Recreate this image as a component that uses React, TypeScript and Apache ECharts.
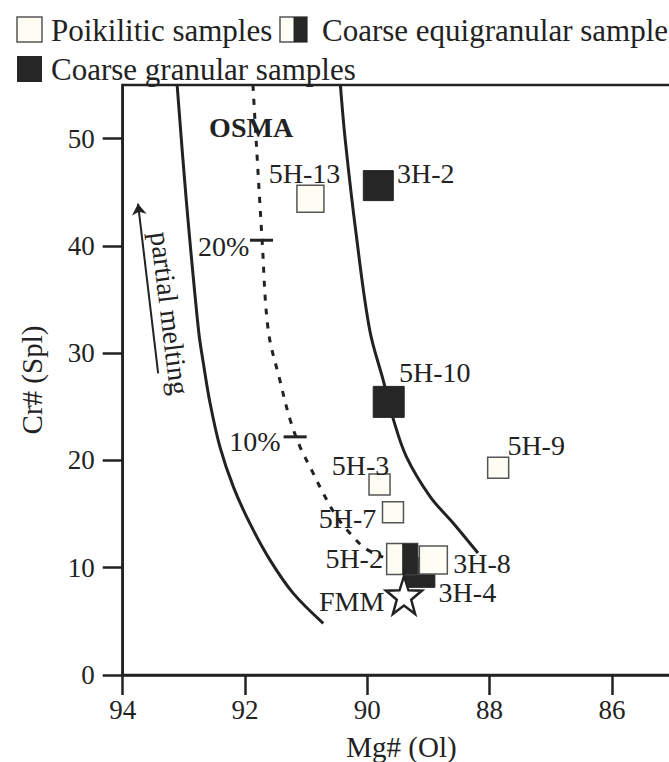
import React, { useEffect, useRef } from "react";
import * as echarts from "echarts";

// ---------- data ----------
const poikiliticNames = ["5H-13", "5H-3", "5H-7", "3H-8", "5H-9"];
const poikiliticMg = [90.93, 89.8, 89.58, 88.92, 87.86];
const poikiliticCr = [44.39, 17.75, 15.16, 10.71, 19.33];

const granularNames = ["3H-2", "5H-10", "3H-4"];
const granularMg = [89.82, 89.65, 89.14];
const granularCr = [45.62, 25.46, 9.57];

const equigranularNames = ["5H-2"];
const equigranularMg = [89.43];
const equigranularCr = [10.81];

const fmmName = "FMM";
const fmmMg = 89.4;
const fmmCr = 7.45;

// OSMA field boundaries
const leftCurveMg = [93.11, 92.96, 92.76, 92.68, 92.57, 92.41, 92.19, 91.92, 91.59, 91.21, 90.72];
const leftCurveCr = [55.0, 44.25, 32.14, 29.04, 25.31, 21.27, 17.54, 14.13, 10.71, 7.61, 4.82];
const rightCurveMg = [90.44, 90.36, 90.18, 89.96, 89.74, 89.57, 89.36, 88.97, 88.59, 88.19];
const rightCurveCr = [55.0, 49.84, 40.99, 32.14, 27.48, 23.76, 20.34, 16.61, 14.13, 11.37];

// partial melting trend from FMM
const meltCurveMg = [91.87, 91.72, 91.62, 91.43, 91.26, 91.1, 90.91, 90.72, 90.5, 90.28, 90.04, 89.74];
const meltCurveCr = [55.0, 40.53, 32.14, 27.48, 23.76, 21.27, 19.1, 16.93, 14.75, 13.2, 11.83, 10.99];
const meltTickLabels = ["20%", "10%"];
const meltTickMg = [91.73, 91.18];
const meltTickCr = [40.53, 22.2];

// annotations
const osmaLabel = "OSMA";
const osmaPos = [91.9, 51.05];
const meltingText = "partial melting";
const meltingTextPos = [93.23, 33.72];
const arrowStart = [93.42, 28.11];
const arrowEnd = [93.75, 43.94];

// axes
const xMin = 84;
const xMax = 94;
const xInterval = 2;
const yMin = 0;
const yMax = 55;
const yInterval = 10;
const xName = "Mg# (Ol)";
const yName = "Cr# (Spl)";

const legendLabels = ["Poikilitic samples", "Coarse equigranular sample", "Coarse granular samples"];

// ---------- styles ----------
const FONT = "'Liberation Serif', 'Times New Roman', serif";
const INK = "#222222";
const DARK = "#262626";
const OPEN_FILL = "#fdfdf4";
const OPEN_BORDER = "#555555";

const markerSize: Record<string, number> = {
  "5H-13": 27, "5H-3": 21, "5H-7": 21, "3H-8": 28, "5H-9": 21,
  "3H-2": 30, "5H-10": 31, "3H-4": 30, "5H-2": 31,
};
const labelOffset: Record<string, [number, number]> = {
  "5H-13": [-6, -25],
  "5H-3": [-19, -19.5],
  "5H-7": [-45.5, 6],
  "3H-8": [48.7, 3],
  "5H-9": [38, -22.5],
  "3H-2": [47.5, -12],
  "5H-10": [46, -29],
  "3H-4": [47.5, 20],
  "5H-2": [-48, -0.7],
  FMM: [-52.3, 6.7],
  "20%": [-37.8, 6.7],
  "10%": [-40.3, 5],
};

const STAR =
  "path://M50,0L61.76,33.82L97.55,34.55L69.02,56.18L79.39,90.45L50,70L20.61,90.45L30.98,56.18L2.45,34.55L38.24,33.82Z";

const zip = (a: number[], b: number[]) => a.map((v, i) => [v, b[i]]);

const sampleLabel = {
  show: true,
  position: "inside" as const,
  formatter: "{b}",
  fontSize: 28,
  fontFamily: FONT,
  color: INK,
  opacity: 1,
  textBorderWidth: 0,
};

function pointItems(names: string[], mg: number[], cr: number[]) {
  return names.map((n, i) => ({
    name: n,
    value: [mg[i], cr[i]],
    symbolSize: markerSize[n],
    label: { offset: labelOffset[n] },
  }));
}

function buildOption(): any {
  const legendY1 = 17;
  const legendY2 = 56;
  return {
    animation: false,
    backgroundColor: "#ffffff",
    grid: {
      left: 122.7,
      top: 85,
      width: 611.5,
      height: 590,
      outerBoundsMode: "none",
      containLabel: false,
      show: true,
      borderColor: INK,
      borderWidth: 2.5,
      backgroundColor: "transparent",
    },
    xAxis: {
      type: "value",
      min: xMin,
      max: xMax,
      interval: xInterval,
      inverse: true,
      name: xName,
      nameLocation: "middle",
      nameGap: 57,
      nameTextStyle: { fontSize: 29, fontFamily: FONT, color: INK, padding: [0, 54, 0, 0] },
      axisLine: { show: true, lineStyle: { color: INK, width: 2.5 } },
      axisTick: { show: true, length: 20, inside: false, lineStyle: { color: INK, width: 2.5 } },
      axisLabel: {
        fontSize: 27,
        fontFamily: FONT,
        color: INK,
        margin: 21,
        showMinLabel: false,
        formatter: (v: number) => (v > xMin ? String(v) : ""),
      },
      splitLine: { show: false },
    },
    yAxis: {
      type: "value",
      min: yMin,
      max: yMax,
      interval: yInterval,
      name: yName,
      nameLocation: "middle",
      nameGap: 76,
      nameTextStyle: { fontSize: 29, fontFamily: FONT, color: INK },
      axisLine: { show: true, lineStyle: { color: INK, width: 2.5 } },
      axisTick: { show: true, length: 20, inside: false, lineStyle: { color: INK, width: 2.5 } },
      axisLabel: {
        fontSize: 27,
        fontFamily: FONT,
        color: INK,
        margin: 28,
        showMaxLabel: false,
        formatter: (v: number) => (v % yInterval === 0 ? String(v) : ""),
      },
      splitLine: { show: false },
    },
    series: [
      {
        type: "line",
        name: "left boundary",
        data: zip(leftCurveMg, leftCurveCr),
        smooth: 0.35,
        symbol: "none",
        lineStyle: { color: INK, width: 3 },
        z: 2,
      },
      {
        type: "line",
        name: "right boundary",
        data: zip(rightCurveMg, rightCurveCr),
        smooth: 0.35,
        symbol: "none",
        lineStyle: { color: INK, width: 3 },
        z: 2,
      },
      {
        type: "line",
        name: "melting trend",
        data: zip(meltCurveMg, meltCurveCr),
        smooth: 0.35,
        symbol: "none",
        lineStyle: { color: INK, width: 3, type: [6, 8] },
        z: 2,
      },
      {
        type: "scatter",
        name: "melting ticks",
        data: meltTickLabels.map((n, i) => ({
          name: n,
          value: [meltTickMg[i], meltTickCr[i]],
          label: { offset: labelOffset[n] },
        })),
        symbol: "rect",
        symbolSize: [23, 3],
        itemStyle: { color: INK, opacity: 1 },
        label: sampleLabel,
        z: 3,
      },
      {
        type: "scatter",
        name: "annotations",
        symbolSize: 0,
        itemStyle: { opacity: 1 },
        data: [
          {
            name: osmaLabel,
            value: osmaPos,
            label: { fontWeight: "bold" },
          },
          {
            name: meltingText,
            value: meltingTextPos,
            label: { rotate: -83 },
          },
        ],
        label: sampleLabel,
        markLine: {
          silent: true,
          symbol: ["none", "arrow"],
          symbolSize: 11,
          lineStyle: { type: "solid", color: INK, width: 2, opacity: 1 },
          label: { show: false },
          data: [[{ coord: arrowStart }, { coord: arrowEnd }]],
        },
        z: 3,
      },
      {
        type: "scatter",
        name: legendLabels[2],
        data: pointItems(granularNames, granularMg, granularCr),
        symbol: "rect",
        itemStyle: { color: DARK, borderColor: DARK, borderWidth: 1, opacity: 1 },
        label: sampleLabel,
        z: 4,
      },
      {
        type: "scatter",
        name: legendLabels[1],
        data: pointItems(equigranularNames, equigranularMg, equigranularCr),
        symbol: "rect",
        itemStyle: { color: OPEN_FILL, borderColor: OPEN_BORDER, borderWidth: 1.5, opacity: 1 },
        label: sampleLabel,
        z: 5,
      },
      {
        type: "scatter",
        name: legendLabels[1] + " (half)",
        data: equigranularNames.map((n, i) => ({
          name: n,
          value: [equigranularMg[i], equigranularCr[i]],
          symbolSize: [markerSize[n] / 2, markerSize[n]],
          symbolOffset: [markerSize[n] / 4, 0],
        })),
        symbol: "rect",
        itemStyle: { color: DARK, opacity: 1 },
        z: 5,
      },
      {
        type: "scatter",
        name: legendLabels[0],
        data: pointItems(poikiliticNames, poikiliticMg, poikiliticCr),
        symbol: "rect",
        itemStyle: { color: OPEN_FILL, borderColor: OPEN_BORDER, borderWidth: 1.5, opacity: 1 },
        label: sampleLabel,
        z: 6,
      },
      {
        type: "scatter",
        name: fmmName,
        data: [
          {
            name: fmmName,
            value: [fmmMg, fmmCr],
            label: { offset: labelOffset[fmmName] },
          },
        ],
        symbol: STAR,
        symbolSize: [36, 38],
        itemStyle: { color: "#ffffff", borderColor: INK, borderWidth: 2.5, opacity: 1 },
        label: sampleLabel,
        z: 7,
      },
    ],
    graphic: [
      {
        type: "rect",
        shape: { x: 17, y: legendY1, width: 25, height: 25 },
        style: { fill: OPEN_FILL, stroke: OPEN_BORDER, lineWidth: 1.5 },
      },
      {
        type: "text",
        x: 51,
        y: legendY1 + 13,
        style: { text: legendLabels[0], font: `31px ${FONT}`, fill: INK, verticalAlign: "middle" },
      },
      {
        type: "rect",
        shape: { x: 280, y: legendY1, width: 27, height: 25 },
        style: { fill: OPEN_FILL, stroke: OPEN_BORDER, lineWidth: 1.5 },
      },
      {
        type: "rect",
        shape: { x: 293.5, y: legendY1, width: 13.5, height: 25 },
        style: { fill: DARK },
      },
      {
        type: "text",
        x: 322,
        y: legendY1 + 13,
        style: { text: legendLabels[1], font: `31px ${FONT}`, fill: INK, verticalAlign: "middle" },
      },
      {
        type: "rect",
        shape: { x: 17, y: legendY2, width: 25, height: 26 },
        style: { fill: DARK },
      },
      {
        type: "text",
        x: 51,
        y: legendY2 + 13,
        style: { text: legendLabels[2], font: `31px ${FONT}`, fill: INK, verticalAlign: "middle" },
      },
    ],
  };
}

export default function App() {
  const ref = useRef<HTMLDivElement>(null);
  useEffect(() => {
    if (!ref.current) return;
    const chart = echarts.init(ref.current, null, { renderer: "svg" });
    chart.setOption(buildOption());
    return () => chart.dispose();
  }, []);
  return (
    <div
      style={{ position: "fixed", left: 0, top: 0, width: 669, height: 762, overflow: "hidden", background: "#fff" }}
    >
      <div ref={ref} style={{ width: 740, height: 762 }} />
    </div>
  );
}
